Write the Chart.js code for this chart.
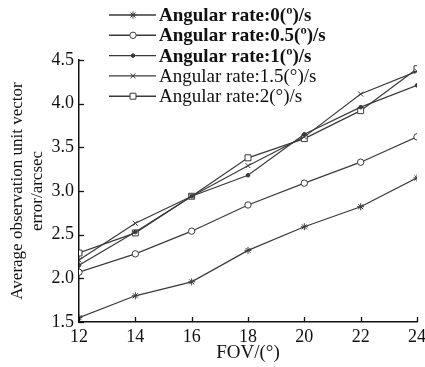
<!DOCTYPE html>
<html>
<head>
<meta charset="utf-8">
<script src="https://cdn.jsdelivr.net/npm/chart.js@4"></script>
<style>
html,body{margin:0;padding:0;background:#fff;}
#wrap{width:425px;height:367px;}
</style>
</head>
<body>
<div id="wrap"><canvas id="c" width="425" height="367"></canvas></div>
<script>
const fov = [12, 14, 16, 18, 20, 22, 24];
const rate0 = [1.55, 1.80, 1.96, 2.32, 2.59, 2.82, 3.15];
const rate05 = [2.07, 2.28, 2.54, 2.84, 3.09, 3.33, 3.62];
const rate1 = [2.15, 2.53, 2.94, 3.18, 3.65, 3.96, 4.21];
const rate15 = [2.21, 2.63, 2.94, 3.29, 3.62, 4.11, 4.37];
const rate2 = [2.29, 2.52, 2.94, 3.38, 3.60, 3.92, 4.40];
const seriesLabels = ['Angular rate:0(º)/s', 'Angular rate:0.5(º)/s', 'Angular rate:1(º)/s', 'Angular rate:1.5(°)/s', 'Angular rate:2(°)/s'];
const yTicks = [1.5, 2.0, 2.5, 3.0, 3.5, 4.0, 4.5];
const xTicks = [12, 14, 16, 18, 20, 22, 24];

const LINE = '#3a3a3a';
const styles = [
  {pointStyle: 'star', radius: 3.5, bg: LINE},
  {pointStyle: 'circle', radius: 3.2, bg: '#fff'},
  {pointStyle: 'circle', radius: 1.8, bg: LINE},
  {pointStyle: 'crossRot', radius: 3.5, bg: LINE},
  {pointStyle: 'rect', radius: 4.2, bg: '#fff'}
];
const values = [rate0, rate05, rate1, rate15, rate2];

const datasets = values.map((v, i) => ({
  label: seriesLabels[i],
  data: fov.map((x, j) => ({x: x, y: v[j]})),
  borderColor: LINE,
  borderWidth: 1.2,
  pointStyle: styles[i].pointStyle,
  pointRadius: styles[i].radius,
  pointBorderColor: LINE,
  pointBackgroundColor: styles[i].bg,
  pointBorderWidth: 1,
  tension: 0
}));

const SERIF = "'Liberation Serif', 'Times New Roman', serif";

const extras = {
  id: 'extras',
  afterDraw(chart) {
    const ctx = chart.ctx;
    const xs = chart.scales.x, ys = chart.scales.y;
    const area = chart.chartArea;
    ctx.save();
    // inward ticks
    ctx.strokeStyle = '#111';
    ctx.lineWidth = 1.3;
    yTicks.forEach(t => {
      const py = Math.round(ys.getPixelForValue(t)) + 0.5;
      ctx.beginPath();
      ctx.moveTo(area.left, py);
      ctx.lineTo(area.left + 5, py);
      ctx.stroke();
    });
    xTicks.forEach(t => {
      const px = Math.round(xs.getPixelForValue(t)) + 0.5;
      ctx.beginPath();
      ctx.moveTo(px, area.bottom);
      ctx.lineTo(px, area.bottom - 5);
      ctx.stroke();
    });
    // legend
    chart.data.datasets.forEach((ds, i) => {
      const y = 15 + i * 20.3;
      ctx.strokeStyle = LINE;
      ctx.lineWidth = 1.4;
      ctx.beginPath();
      ctx.moveTo(109, y);
      ctx.lineTo(156, y);
      ctx.stroke();
      ctx.fillStyle = ds.pointBackgroundColor;
      ctx.strokeStyle = LINE;
      ctx.lineWidth = 1;
      Chart.helpers.drawPoint(ctx, {pointStyle: ds.pointStyle, radius: ds.pointRadius, rotation: 0, borderWidth: 1}, 133, y);
      ctx.fillStyle = '#111';
      ctx.font = (i < 3 ? 'bold ' : '') + '19px ' + SERIF;
      ctx.textBaseline = 'middle';
      ctx.textAlign = 'left';
      ctx.fillText(ds.label, 159, y + 1);
    });
    ctx.restore();
  }
};

new Chart(document.getElementById('c'), {
  type: 'line',
  data: {datasets: datasets},
  options: {
    responsive: false,
    animation: false,
    devicePixelRatio: 1,
    layout: {padding: {top: 60, right: 8, left: 0, bottom: 0}},
    plugins: {legend: {display: false}, tooltip: {enabled: false}},
    scales: {
      x: {
        type: 'linear',
        min: 12, max: 24,
        afterBuildTicks: s => { s.ticks = xTicks.map(v => ({value: v})); },
        afterFit: s => { s.height = 45; s.paddingRight = 0; s.paddingLeft = 0; },
        grid: {display: true, drawOnChartArea: false, drawTicks: false},
        border: {display: true, color: '#111', width: 1.5},
        ticks: {color: '#111', font: {family: SERIF, size: 18}, padding: 4, maxRotation: 0},
        title: {display: true, text: 'FOV/(°)', color: '#111', font: {family: SERIF, size: 19}, padding: {top: 0, bottom: 3}}
      },
      y: {
        type: 'linear',
        min: 1.5, max: 4.5,
        afterBuildTicks: s => { s.ticks = yTicks.map(v => ({value: v})); },
        afterFit: s => { s.width = 79; s.paddingTop = 0; s.paddingBottom = 0; },
        grid: {display: true, drawOnChartArea: false, drawTicks: false},
        border: {display: true, color: '#111', width: 1.5},
        ticks: {color: '#111', font: {family: SERIF, size: 18}, padding: 5, callback: v => v.toFixed(1)},
        title: {display: true, text: ['Average observation unit vector', 'error/arcsec'], color: '#111', font: {family: SERIF, size: 17, lineHeight: 1.2}, padding: {top: 7, bottom: 0}}
      }
    }
  },
  plugins: [extras]
});
</script>
</body>
</html>
